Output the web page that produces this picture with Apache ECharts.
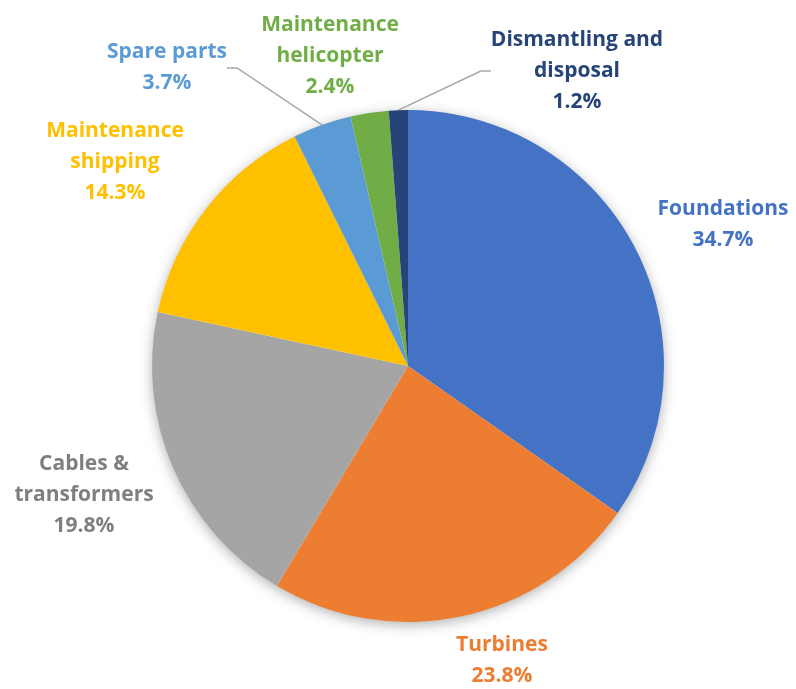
<!DOCTYPE html>
<html>
<head>
<meta charset="utf-8">
<style>
  html, body { margin: 0; padding: 0; background: #ffffff; }
  #chart { width: 796px; height: 689px; }
</style>
<script src="https://cdn.jsdelivr.net/npm/echarts@6/dist/echarts.min.js"></script>
</head>
<body>
<div id="chart"></div>
<script>
// Share of life-cycle cost by component (%)
const categories = [
  'Foundations',
  'Turbines',
  'Cables &\ntransformers',
  'Maintenance\nshipping',
  'Spare parts',
  'Maintenance\nhelicopter',
  'Dismantling and\ndisposal'
];
const shares = [34.7, 23.8, 19.8, 14.3, 3.7, 2.4, 1.2];

const sliceColors = ['#4472C4', '#ED7D31', '#A5A5A5', '#FFC000', '#5B9BD5', '#70AD47', '#264478'];
const labelColors = ['#4472C4', '#ED7D31', '#7F7F7F', '#FFC000', '#5B9BD5', '#70AD47', '#264478'];
const showLeader  = [false, false, false, false, true, false, true];

// Label block centres (px) in the chart canvas
const labelAnchors = [
  [723, 225],
  [502, 661],
  [84, 495],
  [115, 162],
  [167, 68],
  [330, 56],
  [577, 71]
];

const PIE_CENTER = [408, 366];
const PIE_RADIUS = 256;
const FONT = '"Open Sans", Lato, "Noto Sans", sans-serif';

const chart = echarts.init(document.getElementById('chart'), null, { renderer: 'canvas' });

const pieData = categories.map((name, i) => ({
  name,
  value: shares[i],
  itemStyle: { color: sliceColors[i] },
  label: { color: labelColors[i] },
  labelLine: { show: showLeader[i] }
}));

chart.setOption({
  backgroundColor: '#ffffff',
  animation: false,
  series: [
    {
      // soft drop shadow under the whole disc
      type: 'pie',
      silent: true,
      z: 1,
      center: PIE_CENTER,
      radius: PIE_RADIUS - 1,
      label: { show: false },
      labelLine: { show: false },
      itemStyle: {
        color: '#ffffff',
        shadowBlur: 14,
        shadowColor: 'rgba(0,0,0,0.35)',
        shadowOffsetX: 0,
        shadowOffsetY: 3
      },
      data: [{ value: 1, name: '' }]
    },
    {
      type: 'pie',
      z: 2,
      center: PIE_CENTER,
      radius: PIE_RADIUS,
      startAngle: 90,
      clockwise: true,
      avoidLabelOverlap: false,
      itemStyle: { borderWidth: 0 },
      label: {
        show: true,
        position: 'outside',
        formatter: (p) => p.name + '\n' + p.value.toFixed(1) + '%',
        fontFamily: FONT,
        fontWeight: 'bold',
        fontSize: 21,
        lineHeight: 31,
        align: 'center'
      },
      labelLine: {
        show: true,
        length: 10,
        length2: 10,
        lineStyle: { color: '#A6A6A6', width: 1.5 }
      },
      labelLayout: (params) => {
        const a = labelAnchors[params.dataIndex];
        return {
          x: a[0],
          y: a[1],
          align: 'center',
          verticalAlign: 'middle'
        };
      },
      data: pieData
    }
  ]
});
</script>
</body>
</html>
